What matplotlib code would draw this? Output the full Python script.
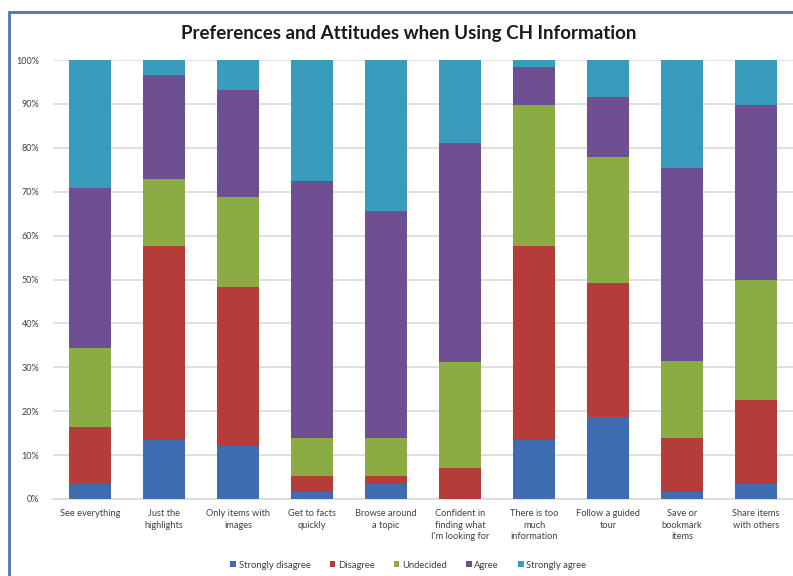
import numpy as np
import matplotlib
matplotlib.use("Agg")
import matplotlib.pyplot as plt
from matplotlib.patches import Rectangle

# Data (percent of respondents)
categories = [
    "See everything",
    "Just the\nhighlights",
    "Only items with\nimages",
    "Get to facts\nquickly",
    "Browse around\na topic",
    "Confident in\nfinding what\nI'm looking for",
    "There is too\nmuch\ninformation",
    "Follow a guided\ntour",
    "Save or\nbookmark\nitems",
    "Share items\nwith others",
]
strongly_disagree = [3.6, 13.5, 12.1, 1.7, 3.4, 0.0, 13.5, 18.6, 1.7, 3.4]
disagree = [12.7, 44.1, 36.1, 3.5, 1.8, 7.0, 44.1, 30.6, 12.3, 19.1]
undecided = [18.2, 15.3, 20.7, 8.6, 8.6, 24.1, 32.1, 28.8, 17.5, 27.5]
agree = [36.4, 23.7, 24.3, 58.6, 51.7, 49.9, 8.6, 13.5, 44.0, 39.7]
strongly_agree = [29.1, 3.4, 6.8, 27.6, 34.5, 19.0, 1.7, 8.5, 24.5, 10.3]

series_names = ["Strongly disagree", "Disagree", "Undecided", "Agree", "Strongly agree"]
colors = ["#3d6cb0", "#b43c39", "#8bac45", "#6e4f92", "#3a9cbc"]

plt.rcParams["font.family"] = ["Lato", "DejaVu Sans"]

fig = plt.figure(figsize=(7.93, 5.76), dpi=100)
ax = fig.add_axes([53 / 793, 1 - 499 / 576, 1 - 53 / 793, (499 - 60) / 576])

x = np.arange(len(categories))
bottom = np.zeros(len(categories))
for name, vals, col in zip(
    series_names,
    [strongly_disagree, disagree, undecided, agree, strongly_agree],
    colors,
):
    ax.bar(x, vals, bottom=bottom, width=0.57, color=col, label=name, zorder=3)
    bottom += np.array(vals)

ax.set_xlim(-0.5, len(categories) - 0.5)
ax.set_ylim(0, 100)
ax.set_yticks(np.arange(0, 101, 10))
ax.set_yticklabels([f"{v}%" for v in range(0, 101, 10)], fontsize=6.5, color="#404040")
ax.set_xticks(x)
ax.set_xticklabels(categories, fontsize=6.7, color="#404040", linespacing=1.4, va="top")
ax.tick_params(axis="both", length=0, pad=7)
ax.tick_params(axis="y", pad=10)
ax.grid(axis="y", color="#d9d9d9", linewidth=1.2, zorder=0)
for s in ["top", "right", "left"]:
    ax.spines[s].set_visible(False)
ax.spines["bottom"].set_color("#d9d9d9")
ax.spines["bottom"].set_linewidth(1.2)

fig.text(0.515, 1 - 33 / 576, "Preferences and Attitudes when Using CH Information",
         ha="center", va="center", fontsize=13.5, fontweight="bold", color="#1a1a1a")

fig.legend(loc="center", bbox_to_anchor=(0.515, 1 - 565 / 576), ncol=5, frameon=False,
           fontsize=6.8, handlelength=0.6, handleheight=0.6, handletextpad=0.3,
           columnspacing=2.0, labelcolor="#404040")

# chart frame border
fig.patches.append(Rectangle((9 / 793, -0.1), 1.2, 1.1 - 12 / 576,
                             transform=fig.transFigure, fill=False,
                             edgecolor="#4a76c0", linewidth=2.0))

fig.savefig("out.png", dpi=100)
